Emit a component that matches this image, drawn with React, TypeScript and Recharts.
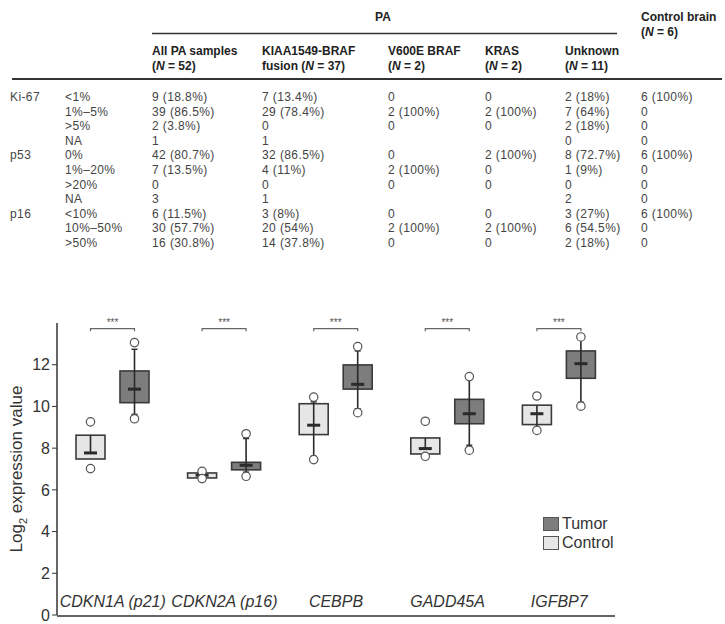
import React from 'react';
import { ComposedChart, Bar, XAxis, YAxis, Legend } from 'recharts';

// ---- table data ----
const markers = ['Ki-67', '', '', '', 'p53', '', '', '', 'p16', '', ''];
const levels = ['<1%', '1%–5%', '>5%', 'NA', '0%', '1%–20%', '>20%', 'NA', '<10%', '10%–50%', '>50%'];
const allPA = ['9 (18.8%)', '39 (86.5%)', '2 (3.8%)', '1', '42 (80.7%)', '7 (13.5%)', '0', '3', '6 (11.5%)', '30 (57.7%)', '16 (30.8%)'];
const kiaa = ['7 (13.4%)', '29 (78.4%)', '0', '1', '32 (86.5%)', '4 (11%)', '0', '1', '3 (8%)', '20 (54%)', '14 (37.8%)'];
const v600e = ['0', '2 (100%)', '0', '', '0', '2 (100%)', '0', '', '0', '2 (100%)', '0'];
const kras = ['0', '2 (100%)', '0', '', '2 (100%)', '0', '0', '', '0', '2 (100%)', '0'];
const unknown = ['2 (18%)', '7 (64%)', '2 (18%)', '0', '8 (72.7%)', '1 (9%)', '0', '2', '3 (27%)', '6 (54.5%)', '2 (18%)'];
const controlBrain = ['6 (100%)', '0', '0', '0', '6 (100%)', '0', '0', '0', '6 (100%)', '0', '0'];

const headTop = ['All PA samples', 'KIAA1549-BRAF', 'V600E BRAF', 'KRAS', 'Unknown'];
const headPrefix = ['(', 'fusion (', '(', '(', '('];
const headN = ['52', '37', '2', '2', '11'];

// ---- box plot data (log2 expression) ----
const genes = ['CDKN1A (p21)', 'CDKN2A (p16)', 'CEBPB', 'GADD45A', 'IGFBP7'];

const ctrlQ1 = [7.48, 6.57, 8.65, 7.72, 9.13];
const ctrlMed = [7.77, 6.7, 9.1, 7.98, 9.65];
const ctrlQ3 = [8.62, 6.81, 10.13, 8.49, 10.06];
const ctrlWLo = [7.77, 6.7, 7.61, 7.98, 8.95];
const ctrlWHi = [8.62, 6.7, 10.22, 8.49, 10.06];
const ctrlMin = [7.02, 6.54, 7.45, 7.61, 8.85];
const ctrlMax = [9.26, 6.89, 10.45, 9.29, 10.5];

const tumQ1 = [10.18, 6.96, 10.83, 9.17, 11.35];
const tumMed = [10.83, 7.18, 11.06, 9.65, 12.05];
const tumQ3 = [11.7, 7.32, 11.99, 10.34, 12.66];
const tumWLo = [9.62, 6.85, 9.89, 8.14, 10.2];
const tumWHi = [12.74, 8.46, 12.66, 11.3, 13.22];
const tumMin = [9.41, 6.65, 9.7, 7.9, 10.01];
const tumMax = [13.06, 8.69, 12.87, 11.43, 13.33];

const sigLabel = ['***', '***', '***', '***', '***'];
const sigLevel = 13.73;

const yTicks = [0, 2, 4, 6, 8, 10, 12];

const BAR_GAP = 15;
const AXIS = '#333';
const FONT = '"Liberation Sans", Arial, Helvetica, sans-serif';

const chartData = genes.map((g, i) => ({
  gene: g,
  ctrlBox: [ctrlQ1[i], ctrlQ3[i]],
  tumBox: [tumQ1[i], tumQ3[i]],
  ctrl: { q1: ctrlQ1[i], med: ctrlMed[i], q3: ctrlQ3[i], wLo: ctrlWLo[i], wHi: ctrlWHi[i], min: ctrlMin[i], max: ctrlMax[i] },
  tum: { q1: tumQ1[i], med: tumMed[i], q3: tumQ3[i], wLo: tumWLo[i], wHi: tumWHi[i], min: tumMin[i], max: tumMax[i] },
  sig: sigLabel[i],
}));

function makeBoxShape(kind: 'ctrl' | 'tum', fill: string) {
  return (props: any) => {
    const { x, y, width, height, payload } = props;
    const s = payload[kind];
    const ppu = height / (s.q3 - s.q1);
    const py = (v: number) => y + (s.q3 - v) * ppu;
    const cx = x + width / 2;
    const r = 4.2;
    let bracket = null;
    if (kind === 'tum') {
      const left = cx - (width + BAR_GAP);
      const by = py(sigLevel);
      bracket = (
        <g>
          <path d={`M${left},${by + 2.5}V${by}H${cx}V${by + 2.5}`} fill="none" stroke="#666" strokeWidth={1.2} />
          <text x={(left + cx) / 2} y={by - 3} textAnchor="middle" fontSize={10} fill="#555" fontFamily={FONT}>{payload.sig}</text>
        </g>
      );
    }
    return (
      <g>
        <rect x={x} y={y} width={width} height={height} fill={fill} stroke="#3a3a3a" strokeWidth={1.6} />
        {s.wHi > s.wLo && (
          <line x1={cx} x2={cx} y1={py(s.wHi)} y2={py(s.wLo)} stroke="#2a2a2a" strokeWidth={1.6} />
        )}
        {s.wHi > s.q3 && <line x1={cx - 3} x2={cx + 3} y1={py(s.wHi)} y2={py(s.wHi)} stroke="#2a2a2a" strokeWidth={1.4} />}
        {s.wLo < s.q1 && <line x1={cx - 3} x2={cx + 3} y1={py(s.wLo)} y2={py(s.wLo)} stroke="#2a2a2a" strokeWidth={1.4} />}
        <line x1={cx - 6.5} x2={cx + 6.5} y1={py(s.med)} y2={py(s.med)} stroke="#2a2a2a" strokeWidth={3} />
        <circle cx={cx} cy={py(s.max)} r={r} fill="#fff" stroke="#555" strokeWidth={1.2} />
        <circle cx={cx} cy={py(s.min)} r={r} fill="#fff" stroke="#555" strokeWidth={1.2} />
        {bracket}
      </g>
    );
  };
}

const ctrlShape = makeBoxShape('ctrl', '#e6e6e6');
const tumShape = makeBoxShape('tum', '#7d7d7d');

function GeneTick(props: any) {
  const { x, y, payload } = props;
  return (
    <text x={x} y={y - 8} textAnchor="middle" fontSize={16} fontStyle="italic" fill="#333" fontFamily={FONT}>
      {payload.value}
    </text>
  );
}

function YLabel(props: any) {
  const vb = props.viewBox || {};
  const cy = vb.y + vb.height / 2;
  const cx = 22;
  return (
    <text x={cx} y={cy} transform={`rotate(-90 ${cx} ${cy})`} textAnchor="middle" fontSize={17} fill="#333" fontFamily={FONT}>
      Log<tspan fontSize={11} dy={5}>2</tspan>
      <tspan dy={-5}> expression value</tspan>
    </text>
  );
}

function LegendBox() {
  const items = [
    { name: 'Tumor', fill: '#7d7d7d' },
    { name: 'Control', fill: '#e6e6e6' },
  ];
  return (
    <div style={{ fontFamily: FONT }}>
      {items.map((it) => (
        <div key={it.name} style={{ display: 'flex', alignItems: 'center', height: 19 }}>
          <span style={{ display: 'inline-block', width: 14, height: 12, background: it.fill, border: '1px solid #555', marginRight: 3 }} />
          <span style={{ fontSize: 16, color: '#333' }}>{it.name}</span>
        </div>
      ))}
    </div>
  );
}

function DataTable() {
  const colX = [10, 65, 152, 262, 388, 485, 565, 641];
  const rowY = (i: number) => 101 + i * 14.6;
  const cols = [markers, levels, allPA, kiaa, v600e, kras, unknown, controlBrain];
  return (
    <svg width={725} height={300} style={{ position: 'absolute', left: 0, top: 0 }} fontFamily={FONT}>
      <text x={383} y={21} textAnchor="middle" fontSize={12} fontWeight="bold" fill="#222">PA</text>
      <text x={641} y={21} fontSize={12} fontWeight="bold" fill="#222">Control brain</text>
      <text x={641} y={36} fontSize={12} fontWeight="bold" fill="#222">
        (<tspan fontStyle="italic">N</tspan> = 6)
      </text>
      <line x1={152} x2={617} y1={33.5} y2={33.5} stroke="#333" strokeWidth={1.5} />
      {headTop.map((h, i) => (
        <g key={h}>
          <text x={colX[i + 2]} y={55} fontSize={12} fontWeight="bold" fill="#222">{h}</text>
          <text x={colX[i + 2]} y={70} fontSize={12} fontWeight="bold" fill="#222">
            {headPrefix[i]}<tspan fontStyle="italic">N</tspan> = {headN[i]})
          </text>
        </g>
      ))}
      <line x1={12} x2={722} y1={79} y2={79} stroke="#333" strokeWidth={2} />
      {cols.map((col, c) =>
        col.map((v, r) => (
          <text key={`${c}-${r}`} x={colX[c]} y={rowY(r)} fontSize={12} letterSpacing={0.4} fill="#444">{v}</text>
        ))
      )}
    </svg>
  );
}

export default function App() {
  return (
    <div style={{ position: 'absolute', left: 0, top: 0, width: 725, height: 624, background: '#fff', overflow: 'hidden' }}>
      <DataTable />
      <div style={{ position: 'absolute', left: 0, top: 300 }}>
        <ComposedChart
          width={725}
          height={324}
          data={chartData}
          margin={{ top: 23, right: 110, bottom: 0, left: 0 }}
          barGap={BAR_GAP}
          barSize={29}
        >
          <XAxis
            xAxisId="num"
            type="number"
            domain={[0, 5]}
            ticks={[1, 2, 3, 4, 5]}
            allowDataOverflow
            height={8}
            tick={false}
            tickSize={5}
            axisLine={{ stroke: AXIS, strokeWidth: 1.5 }}
            tickLine={{ stroke: AXIS, strokeWidth: 1.2 }}
          />
          <XAxis xAxisId="cat" dataKey="gene" height={1} axisLine={false} tickLine={false} tickSize={0} tickMargin={0} interval={0} tick={<GeneTick />} />
          <YAxis
            domain={[0, 14]}
            ticks={yTicks}
            width={57}
            tickSize={5}
            tickMargin={2}
            axisLine={{ stroke: AXIS, strokeWidth: 1.5 }}
            tickLine={{ stroke: AXIS }}
            tick={{ fontSize: 16, fill: '#333', fontFamily: FONT }}
            label={<YLabel />}
          />
          <Bar xAxisId="cat" dataKey="ctrlBox" name="Control" shape={ctrlShape} isAnimationActive={false} />
          <Bar xAxisId="cat" dataKey="tumBox" name="Tumor" shape={tumShape} isAnimationActive={false} />
          <Legend
            layout="horizontal"
            verticalAlign="middle"
            align="center"
            content={<LegendBox />}
            wrapperStyle={{ left: 543, top: 214, width: 90 }}
          />
        </ComposedChart>
      </div>
    </div>
  );
}
